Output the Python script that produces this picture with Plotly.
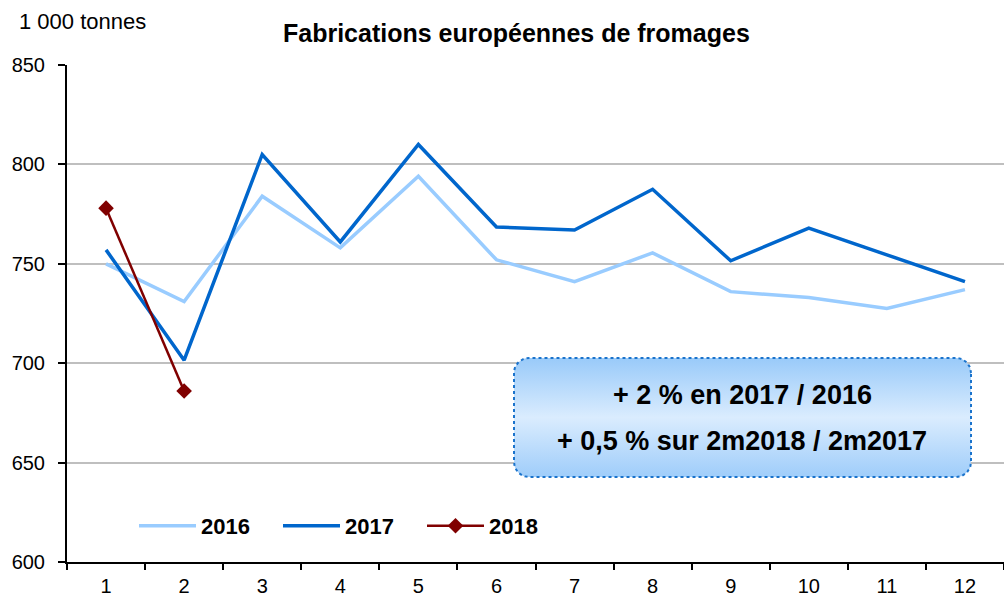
import numpy as np
import plotly.graph_objects as go

months = ["1", "2", "3", "4", "5", "6", "7", "8", "9", "10", "11", "12"]
prod_2016 = [750, 731, 784, 758, 794, 752, 741, 755.5, 736, 733, 727.5, 737]
prod_2017 = [757, 701.5, 805, 761, 810, 768.5, 767, 787.5, 751.5, 768, 754.5, 741]
prod_2018 = [778, 686]
series_names = ["2016", "2017", "2018"]
title_text = "Fabrications européennes de fromages"
unit_text = "1 000 tonnes"
box_lines = ["+ 2 % en 2017 / 2016", "+ 0,5 % sur 2m2018 / 2m2017"]

W, H = 1004, 598
L, T, R, B = 67, 65, 0, 36
pw, ph = W - L - R, H - T - B
FONT = "Liberation Sans, Arial, sans-serif"

fig = go.Figure()

# rounded gradient box (in plot-fraction coordinates on hidden overlay axes)
bx0, bx1 = (514 - L) / pw, (971 - L) / pw
by0, by1 = (H - B - 477) / ph, (H - B - 358) / ph
rx, ry = 15 / pw, 15 / ph
xs, ys = [], []
corners = [(bx1 - rx, by1 - ry, 0, 90), (bx0 + rx, by1 - ry, 90, 180),
           (bx0 + rx, by0 + ry, 180, 270), (bx1 - rx, by0 + ry, 270, 360)]
for cx, cy, a0, a1 in corners:
    a = np.radians(np.linspace(a0, a1, 12))
    xs.extend(cx + rx * np.cos(a))
    ys.extend(cy + ry * np.sin(a))
xs.append(xs[0]); ys.append(ys[0])
fig.add_trace(go.Scatter(
    x=xs, y=ys, xaxis="x2", yaxis="y2", mode="lines", fill="toself",
    fillgradient=dict(type="vertical",
                      colorscale=[[0, "#9FCDFA"], [0.5, "#DAECFE"], [1, "#99CAF9"]]),
    line=dict(color="#1A73CC", width=2, dash="dot"),
    showlegend=False, hoverinfo="skip"))

fig.add_trace(go.Scatter(x=months, y=prod_2016, name=series_names[0], mode="lines",
                         line=dict(color="#99CCFF", width=3.5)))
fig.add_trace(go.Scatter(x=months, y=prod_2017, name=series_names[1], mode="lines",
                         line=dict(color="#0066CC", width=3.5)))
fig.add_trace(go.Scatter(x=months[:len(prod_2018)], y=prod_2018, name=series_names[2],
                         mode="lines+markers",
                         line=dict(color="#800000", width=2.5),
                         marker=dict(symbol="diamond", size=12, color="#800000")))

fig.update_layout(
    width=W, height=H,
    margin=dict(l=L, r=R, t=T, b=B),
    paper_bgcolor="white", plot_bgcolor="white",
    font=dict(family=FONT, color="black", size=20),
    showlegend=True,
    legend=dict(orientation="h", x=(134 - L) / pw, y=(H - B - 526) / ph,
                xanchor="left", yanchor="middle",
                font=dict(family=FONT, size=22, weight="bold", color="black"),
                itemwidth=57, entrywidth=72, entrywidthmode="pixels",
                bgcolor="rgba(0,0,0,0)", tracegroupgap=0),
    xaxis=dict(type="category", range=[-0.5, 11.5], tickson="boundaries",
               ticks="outside", ticklen=6, tickwidth=1.5, tickcolor="black",
               showline=True, linecolor="black", linewidth=2,
               showgrid=False, zeroline=False, fixedrange=True,
               tickfont=dict(size=20), ticklabelstandoff=5),
    yaxis=dict(range=[600, 850], dtick=50, tick0=600,
               ticks="outside", ticklen=7, tickwidth=1.5, tickcolor="black",
               showline=True, linecolor="black", linewidth=2,
               showgrid=True, gridcolor="#BFBFBF", gridwidth=1.5,
               zeroline=False, tickfont=dict(size=20), ticklabelstandoff=9),
    xaxis2=dict(overlaying="x", range=[0, 1], visible=False, fixedrange=True),
    yaxis2=dict(overlaying="y", range=[0, 1], visible=False, fixedrange=True),
)

fig.add_annotation(text=title_text, xref="paper", yref="paper",
                   x=(516 - L) / pw, y=(H - B - 33) / ph, xanchor="center", yanchor="middle",
                   showarrow=False, font=dict(size=25, weight="bold", family=FONT))
fig.add_annotation(text=unit_text, xref="paper", yref="paper",
                   x=(17 - L) / pw, y=(H - B - 21) / ph, xanchor="left", yanchor="middle",
                   showarrow=False, font=dict(size=22, family=FONT))
for txt, ypx in zip(box_lines, [395, 441]):
    fig.add_annotation(text=txt, xref="paper", yref="paper",
                       x=(742 - L) / pw, y=(H - B - ypx) / ph,
                       xanchor="center", yanchor="middle", showarrow=False,
                       font=dict(size=27, weight="bold", family=FONT))

fig.write_html("out.html", config={"displayModeBar": False},
               post_script="document.body.style.margin='0';")
